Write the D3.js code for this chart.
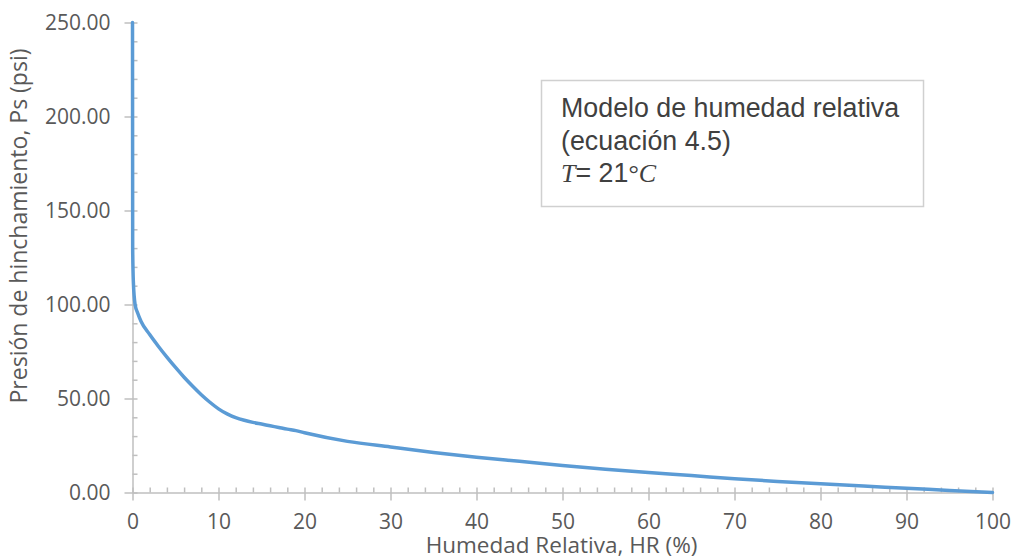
<!DOCTYPE html>
<html>
<head>
<meta charset="utf-8">
<script src="https://cdn.jsdelivr.net/npm/d3@7"></script>
<style>
  body { margin: 0; background: #fff; }
  svg { display: block; }
</style>
</head>
<body>
<script>
// humedad relativa (%) vs presion de hinchamiento (psi)
var hr = [0, 0.02, 0.1, 0.3, 0.6, 1, 2, 3, 4, 5, 6, 7, 8, 9, 10, 11, 12, 13,
          14, 15, 16, 17, 18, 19, 20, 25, 30, 35, 40, 45, 50, 55, 60, 65,
          70, 75, 80, 85, 90, 95, 100];
var ps = [250, 130, 112, 100, 95.5, 91, 84, 77.8, 72, 66.5, 61.3, 56.5, 52,
          48, 44.5, 41.8, 39.8, 38.4, 37.3, 36.4, 35.5, 34.6, 33.7, 32.9,
          31.8, 27.2, 24.2, 21.3, 18.8, 16.6, 14.4, 12.4, 10.6, 9, 7.3, 5.9,
          4.6, 3.4, 2.3, 1.1, 0];

var xTicks = [0, 10, 20, 30, 40, 50, 60, 70, 80, 90, 100];
var yTicks = [0, 50, 100, 150, 200, 250];
var boxLines = ["Modelo de humedad relativa", "(ecuación 4.5)"];

var width = 1014, height = 559;
var axisColor = "#bfbfbf", textColor = "#595959", lineColor = "#5b9bd5";
var labelFont = "'Open Sans', sans-serif";

var svg = d3.select("body").append("svg")
    .attr("width", width)
    .attr("height", height);

var x = d3.scaleLinear().domain([0, 100]).range([132.5, 992.5]);
var y = d3.scaleLinear().domain([0, 250]).range([492.5, 22.5]);

var xMinor = d3.range(0, 101, 2).filter(function(d) { return d % 10 != 0; });
var yMinor = d3.range(0, 251, 10).filter(function(d) { return d % 50 != 0; });

// minor ticks (inside the plot only)
svg.append("g")
    .attr("transform", "translate(0," + y(0) + ")")
    .call(d3.axisTop(x).tickValues(xMinor).tickSize(5).tickFormat(""))
    .call(function(g) { g.select(".domain").remove(); });

svg.append("g")
    .attr("transform", "translate(" + x(0) + ",0)")
    .call(d3.axisRight(y).tickValues(yMinor).tickSize(5).tickFormat(""))
    .call(function(g) { g.select(".domain").remove(); });

// major ticks cross the axis line
var gx = svg.append("g")
    .attr("transform", "translate(0," + y(0) + ")")
    .call(d3.axisBottom(x).tickValues(xTicks).tickSize(8).tickPadding(14)
        .tickSizeOuter(0));
gx.selectAll(".tick line").attr("y1", -5);

var gy = svg.append("g")
    .attr("transform", "translate(" + x(0) + ",0)")
    .call(d3.axisLeft(y).tickValues(yTicks).tickSize(8).tickPadding(14)
        .tickSizeOuter(0).tickFormat(d3.format(".2f")));
gy.selectAll(".tick line").attr("x1", 5);

svg.selectAll(".tick line, .domain")
    .attr("stroke", axisColor)
    .attr("stroke-width", 1.5);
svg.selectAll(".tick text")
    .attr("fill", textColor)
    .style("font-family", labelFont)
    .style("font-size", "21px");

// curve
var line = d3.line()
    .x(function(d) { return x(d[0]); })
    .y(function(d) { return y(d[1]); })
    .curve(d3.curveMonotoneX);

svg.append("path")
    .datum(d3.zip(hr, ps))
    .attr("d", line)
    .attr("fill", "none")
    .attr("stroke", lineColor)
    .attr("stroke-width", 3.5)
    .attr("stroke-linecap", "round");

// axis titles
svg.append("text")
    .text("Humedad Relativa, HR (%)")
    .attr("x", 561.5)
    .attr("y", 553)
    .attr("text-anchor", "middle")
    .attr("fill", textColor)
    .style("font-family", labelFont)
    .style("font-size", "22.5px");

svg.append("text")
    .text("Presión de hinchamiento, Ps (psi)")
    .attr("transform", "translate(27,226) rotate(-90)")
    .attr("text-anchor", "middle")
    .attr("fill", textColor)
    .style("font-family", labelFont)
    .style("font-size", "23px");

// annotation box
svg.append("rect")
    .attr("x", 541.5)
    .attr("y", 80.5)
    .attr("width", 382)
    .attr("height", 126)
    .attr("fill", "#fff")
    .attr("stroke", "#d0d0d0")
    .attr("stroke-width", 1.5);

var box = svg.append("g")
    .style("font-family", "'Liberation Sans', Arial, sans-serif")
    .style("font-size", "26.8px")
    .attr("fill", "#404040");

boxLines.forEach(function(t, i) {
    box.append("text").text(t).attr("x", 561).attr("y", 117 + i * 32.5);
});

var serif = "'Liberation Serif', 'Times New Roman', serif";
var tline = box.append("text").attr("x", 561).attr("y", 182);
tline.append("tspan").text("T")
    .style("font-family", serif).style("font-style", "italic")
    .style("font-size", "26px");
tline.append("tspan").text("= 21");
tline.append("tspan").text("°")
    .style("font-family", serif).style("font-size", "26px");
tline.append("tspan").text("C")
    .style("font-family", serif).style("font-style", "italic")
    .style("font-size", "26px");
</script>
</body>
</html>
